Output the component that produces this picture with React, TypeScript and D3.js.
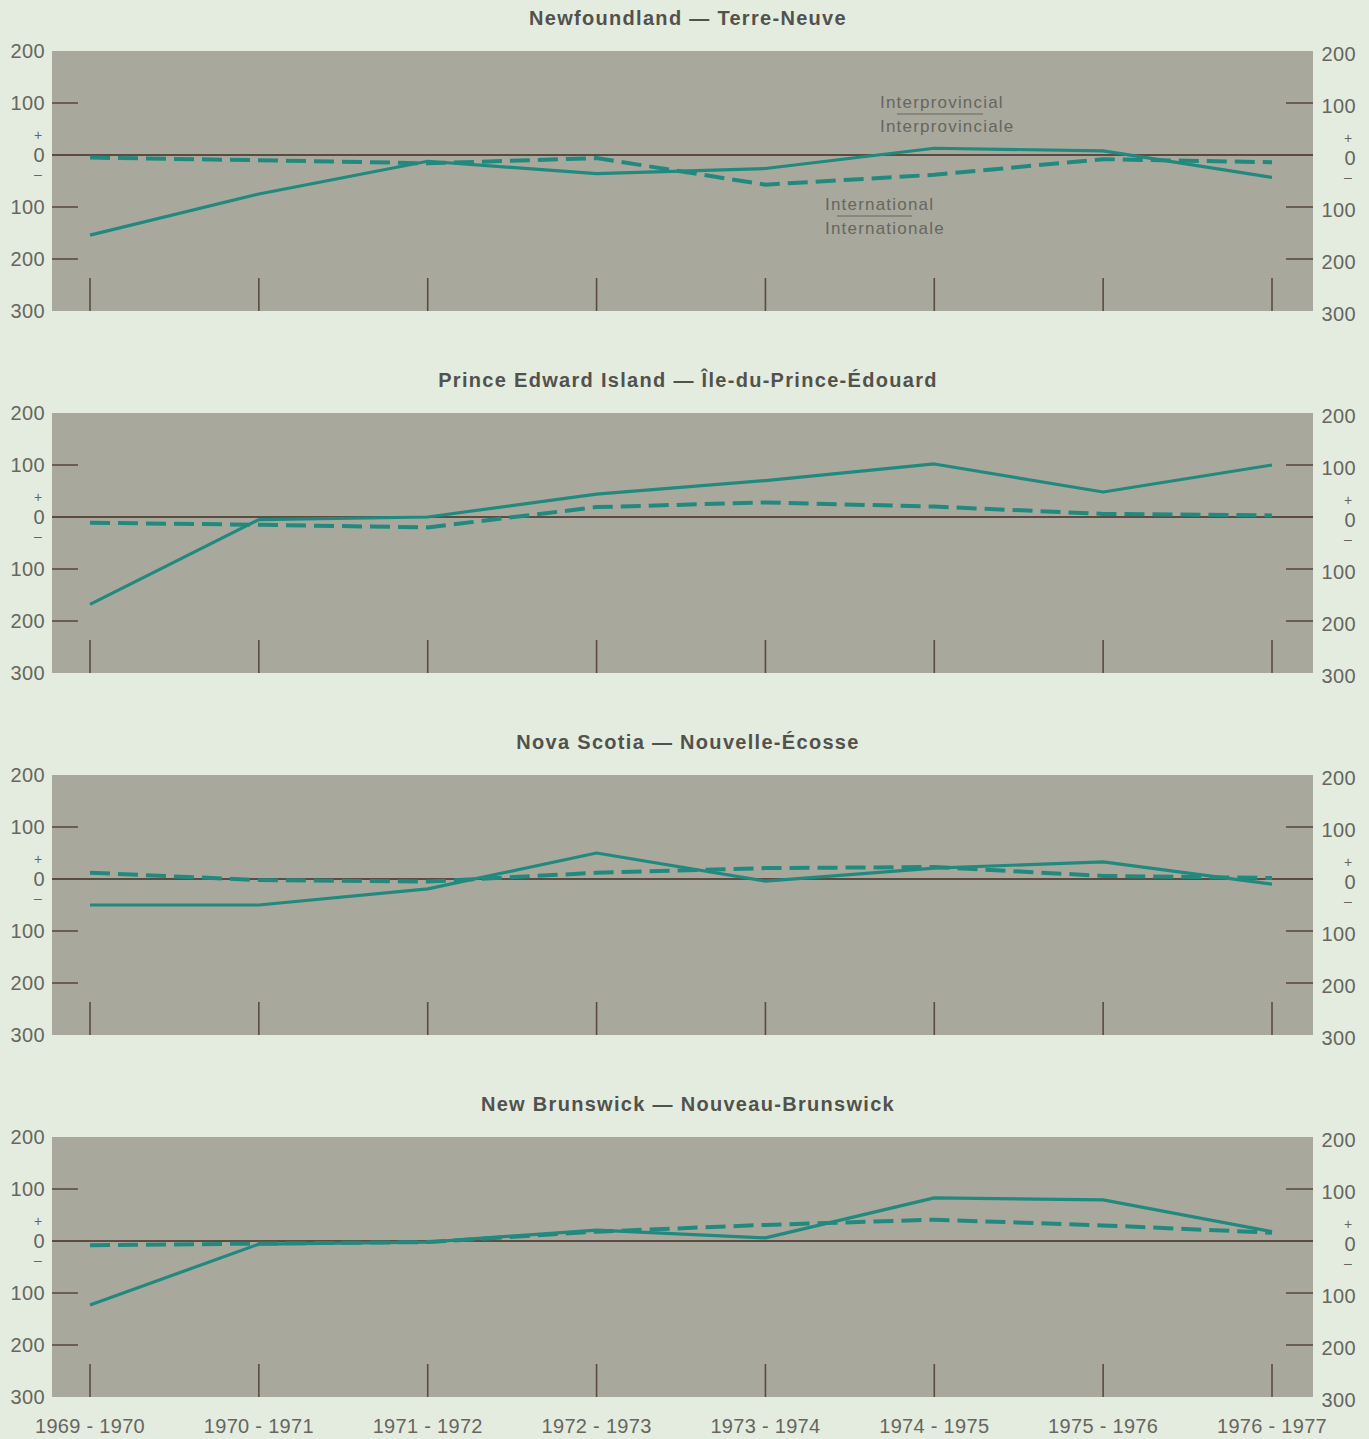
import React from "react";
import * as d3 from "d3";

const periods = ["1969 - 1970", "1970 - 1971", "1971 - 1972", "1972 - 1973", "1973 - 1974", "1974 - 1975", "1975 - 1976", "1976 - 1977"];
const provinces = [
  "Newfoundland — Terre-Neuve",
  "Prince Edward Island — Île-du-Prince-Édouard",
  "Nova Scotia — Nouvelle-Écosse",
  "New Brunswick — Nouveau-Brunswick",
];
// Interprovincial (solid) and International (dashed) net migration
const interprovincial = [
  [-154, -75, -12, -36, -26, 13, 8, -43],
  [-168, -5, 0, 44, 70, 102, 48, 100],
  [-50, -50, -19, 50, -4, 21, 33, -10],
  [-123, -6, -2, 21, 6, 83, 79, 18],
];
const international = [
  [-5, -10, -16, -6, -57, -38, -8, -14],
  [-11, -15, -20, 19, 28, 20, 6, 3],
  [12, -2, -5, 12, 21, 23, 6, 2],
  [-8, -5, -2, 18, 31, 41, 30, 16],
];
const tickValues = [200, 100, 0, -100, -200, -300];
const tickLabels = ["200", "100", "0", "100", "200", "300"];

const BG = "#e4ecdf";
const PANEL = "#a9a89d";
const TEAL = "#22897f";
const ZERO = "#5c4b40";
const TEXT = "#66665f";
const TITLE = "#52524c";
const FONT = "'Liberation Sans', Arial, Helvetica, sans-serif";

const LEFT = 52;
const RIGHT = 1313;
const PANEL_H = 260;
const tops = [51, 413, 775, 1137];

export default function App() {
  const x = d3.scalePoint<string>().domain(periods).range([90, 1272]);
  return (
    <svg width={1369} height={1439} style={{ display: "block", position: "absolute", left: 0, top: 0, background: BG }}>
      <rect x={0} y={0} width={1369} height={1439} fill={BG} />
      {provinces.map((name, i) => {
        const top = tops[i];
        const y = d3.scaleLinear().domain([200, -300]).range([top, top + PANEL_H]);
        const line = d3
          .line<number>()
          .x((_, j) => x(periods[j]) as number)
          .y((d) => y(d));
        return (
          <g key={name}>
            <text x={688} y={top - 26} textAnchor="middle" fontFamily={FONT} fontWeight="bold" fontSize={20} letterSpacing={1.3} fill={TITLE}>
              {name}
            </text>
            <rect x={LEFT} y={top} width={RIGHT - LEFT} height={PANEL_H} fill={PANEL} />
            {[100, -100, -200].map((v) => (
              <g key={v}>
                <line x1={LEFT} x2={LEFT + 26} y1={y(v)} y2={y(v)} stroke={ZERO} strokeWidth={1.6} />
                <line x1={RIGHT - 27} x2={RIGHT} y1={y(v)} y2={y(v)} stroke={ZERO} strokeWidth={1.6} />
              </g>
            ))}
            {periods.map((p) => (
              <line key={p} x1={x(p)} x2={x(p)} y1={top + PANEL_H - 33} y2={top + PANEL_H} stroke={ZERO} strokeWidth={1.6} />
            ))}
            <line x1={LEFT} x2={RIGHT} y1={y(0)} y2={y(0)} stroke={ZERO} strokeWidth={2} />
            {tickValues.map((v, k) => (
              <g key={v}>
                <text x={45} y={y(v)} dy="0.36em" textAnchor="end" fontFamily={FONT} fontSize={20} letterSpacing={0.4} fill={TEXT}>
                  {tickLabels[k]}
                </text>
                <text x={1356} y={y(v) + 3} dy="0.36em" textAnchor="end" fontFamily={FONT} fontSize={20} letterSpacing={0.4} fill={TEXT}>
                  {tickLabels[k]}
                </text>
              </g>
            ))}
            <text x={38} y={y(0) - 20} dy="0.36em" textAnchor="middle" fontFamily={FONT} fontSize={14} fill={TEXT}>+</text>
            <text x={38} y={y(0) + 19} dy="0.36em" textAnchor="middle" fontFamily={FONT} fontSize={14} fill={TEXT}>–</text>
            <text x={1348} y={y(0) - 17} dy="0.36em" textAnchor="middle" fontFamily={FONT} fontSize={14} fill={TEXT}>+</text>
            <text x={1348} y={y(0) + 22} dy="0.36em" textAnchor="middle" fontFamily={FONT} fontSize={14} fill={TEXT}>–</text>
            <path d={line(international[i]) || ""} fill="none" stroke={TEAL} strokeWidth={4} strokeDasharray="20 8" />
            <path d={line(interprovincial[i]) || ""} fill="none" stroke={TEAL} strokeWidth={3.2} strokeLinejoin="round" />
          </g>
        );
      })}
      <g fontFamily={FONT} fontSize={17} fill={TEXT} letterSpacing={1.2}>
        <text x={880} y={108}>Interprovincial</text>
        <line x1={897} x2={983} y1={114} y2={114} stroke={TEXT} strokeWidth={1} />
        <text x={880} y={132}>Interprovinciale</text>
        <text x={825} y={210}>International</text>
        <line x1={837} x2={912} y1={216} y2={216} stroke={TEXT} strokeWidth={1} />
        <text x={825} y={234}>Internationale</text>
      </g>
      {periods.map((p) => (
        <text key={p} x={x(p)} y={1433} textAnchor="middle" fontFamily={FONT} fontSize={20} letterSpacing={0.3} fill={TEXT}>
          {p}
        </text>
      ))}
    </svg>
  );
}
